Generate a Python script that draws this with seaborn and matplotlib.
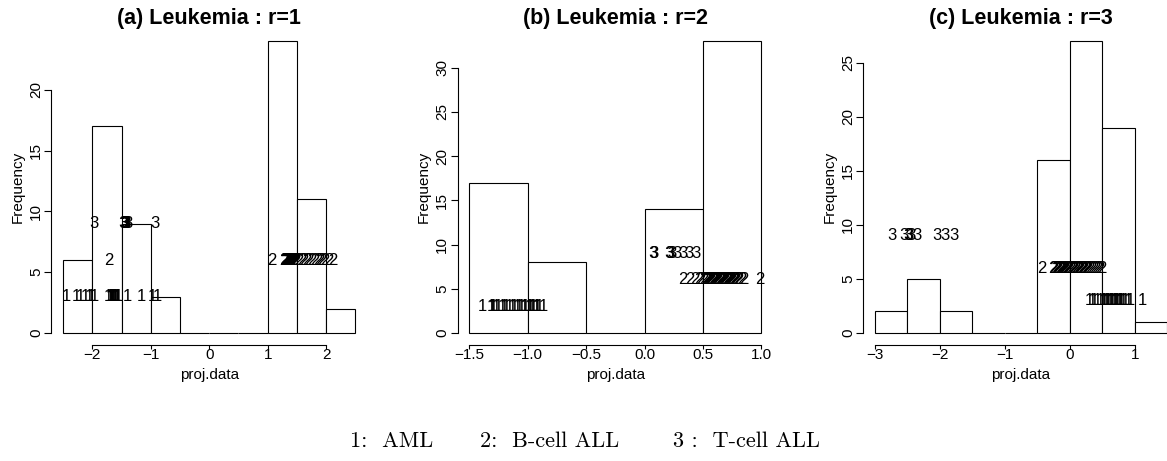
import numpy as np
import pandas as pd
import matplotlib
matplotlib.use('Agg')
import matplotlib.pyplot as plt
import seaborn as sns

# projected data, one list per class (1: AML, 2: B-cell ALL, 3: T-cell ALL)
# panel (a) r=1
r1_aml = [-2.44, -2.27, -2.20, -2.12, -2.06, -2.02,
          -1.97, -1.72, -1.70, -1.69, -1.68, -1.67, -1.66, -1.65, -1.64,
          -1.62, -1.61, -1.60, -1.58, -1.57, -1.55,
          -1.40, -1.16, -0.98, -0.88]
r1_bcell = [-1.72, 1.07,
            1.27, 1.28, 1.29, 1.30, 1.31, 1.32, 1.33, 1.34, 1.35, 1.36, 1.37, 1.38,
            1.39, 1.40, 1.41, 1.42, 1.43, 1.44, 1.45, 1.46, 1.47, 1.48, 1.49,
            1.53, 1.58, 1.62, 1.67, 1.71, 1.76, 1.80, 1.85, 1.89, 1.93, 1.97,
            2.04, 2.12]
r1_tcell = [-1.97, -1.48, -1.46, -1.45, -1.44, -1.43, -1.42, -1.40, -0.93]

# panel (b) r=2
r2_aml = [-1.39, -1.31, -1.30, -1.29, -1.27, -1.25, -1.22, -1.20, -1.18, -1.16,
          -1.13, -1.11, -1.09, -1.07, -1.05, -1.03, -1.02,
          -0.99, -0.98, -0.96, -0.95, -0.93, -0.92, -0.90, -0.87]
r2_bcell = [0.33, 0.39, 0.43, 0.46, 0.48,
            0.51, 0.52, 0.53, 0.54, 0.55, 0.56, 0.57, 0.58, 0.59, 0.60, 0.61,
            0.62, 0.63, 0.64, 0.65, 0.66, 0.67, 0.68, 0.69, 0.70, 0.71, 0.72,
            0.73, 0.74, 0.75, 0.76, 0.77, 0.78, 0.80, 0.81, 0.83, 0.85, 0.99]
r2_tcell = [0.07, 0.08, 0.21, 0.22, 0.23, 0.28, 0.33, 0.38, 0.44]

# panel (c) r=3
r3_aml = [0.31, 0.35, 0.38, 0.42, 0.47,
          0.52, 0.54, 0.56, 0.58, 0.60, 0.62, 0.64, 0.66, 0.68, 0.70, 0.72,
          0.74, 0.76, 0.78, 0.80, 0.83, 0.86, 0.90, 0.94, 1.12]
r3_bcell = [-0.43, -0.26, -0.24, -0.22, -0.20, -0.18, -0.16, -0.14, -0.12,
            -0.10, -0.09, -0.07, -0.05, -0.04, -0.03, -0.01,
            0.02, 0.04, 0.05, 0.07, 0.09, 0.10, 0.12, 0.14, 0.16, 0.18, 0.20,
            0.22, 0.24, 0.26, 0.28, 0.31, 0.34, 0.37, 0.40, 0.43, 0.46, 0.49]
r3_tcell = [-2.74, -2.56, -2.49, -2.47, -2.44, -2.36, -2.05, -1.92, -1.79]

titles = ['(a) Leukemia : r=1', '(b) Leukemia : r=2', '(c) Leukemia : r=3']
bin_edges = [np.arange(-2.5, 2.51, 0.5), np.arange(-1.5, 1.01, 0.5), np.arange(-3.0, 1.51, 0.5)]
x_ticks = [[-2, -1, 0, 1, 2], [-1.5, -1.0, -0.5, 0.0, 0.5, 1.0], [-3, -2, -1, 0, 1]]
y_ticks = [[0, 5, 10, 15, 20], [0, 5, 10, 15, 20, 25, 30], [0, 5, 10, 15, 20, 25]]
panels = [(r1_aml, r1_bcell, r1_tcell), (r2_aml, r2_bcell, r2_tcell), (r3_aml, r3_bcell, r3_tcell)]
legend_items = ['1:  AML', '2:  B-cell ALL', '3 :  T-cell ALL']

sns.set_theme(style='ticks')
plt.rcParams['font.family'] = ['Liberation Sans', 'DejaVu Sans']
plt.rcParams['axes.linewidth'] = 0.8
plt.rcParams['axes.edgecolor'] = 'black'
plt.rcParams['text.color'] = 'black'
plt.rcParams['axes.labelcolor'] = 'black'

W, H = 1167, 461
fig = plt.figure(figsize=(W / 100, H / 100), dpi=100)
lefts = [51.5, 457.6, 863.3]

for i, (aml, bcell, tcell) in enumerate(panels):
    ax = fig.add_axes([lefts[i] / W, (H - 344.7) / H, 315.5 / W, 315.2 / H])
    ax.set_facecolor('white')
    df = pd.DataFrame({
        'proj.data': aml + bcell + tcell,
        'cls': [1] * len(aml) + [2] * len(bcell) + [3] * len(tcell),
    })
    edges = bin_edges[i]
    sns.histplot(data=df, x='proj.data', bins=edges, ax=ax, color='white',
                 edgecolor='black', linewidth=0.8, alpha=1)
    # class labels drawn at each projected value
    for x, c in zip(df['proj.data'], df['cls']):
        ax.text(x, 3 * c, str(c), ha='center', va='center', fontsize=12, color='black')

    ymax = max(p.get_height() for p in ax.patches)
    span = edges[-1] - edges[0]
    ax.set_xlim(edges[0] - 0.04 * span, edges[-1] + 0.04 * span)
    ax.set_ylim(-0.04 * ymax, 1.04 * ymax)
    ax.set_xticks(x_ticks[i])
    ax.set_yticks(y_ticks[i])
    ax.spines['top'].set_visible(False)
    ax.spines['right'].set_visible(False)
    ax.spines['left'].set_bounds(y_ticks[i][0], y_ticks[i][-1])
    ax.spines['bottom'].set_bounds(x_ticks[i][0], x_ticks[i][-1])
    ax.tick_params(axis='x', length=3, width=0.8, labelsize=11, colors='black', pad=-0.5)
    ax.tick_params(axis='y', length=5, width=0.8, labelsize=11, colors='black', pad=1)
    for lab in ax.get_yticklabels():
        lab.set_rotation(90)
        lab.set_va('center')
    ax.set_xlabel('proj.data', fontsize=11)
    ax.set_ylabel('Frequency', fontsize=11)
    ax.xaxis.set_label_coords(0.5, -0.073)
    ax.yaxis.set_label_coords(-0.085, 0.5)
    ax.set_title(titles[i], fontsize=15.5, fontweight='bold', pad=4)

legend_x = [350, 480, 673]
for lx, item in zip(legend_x, legend_items):
    fig.text(lx / W, (H - 446.5) / H, item, family='cmr10', fontsize=16,
             ha='left', va='baseline', color='black')

fig.savefig('out.png', dpi=100)
